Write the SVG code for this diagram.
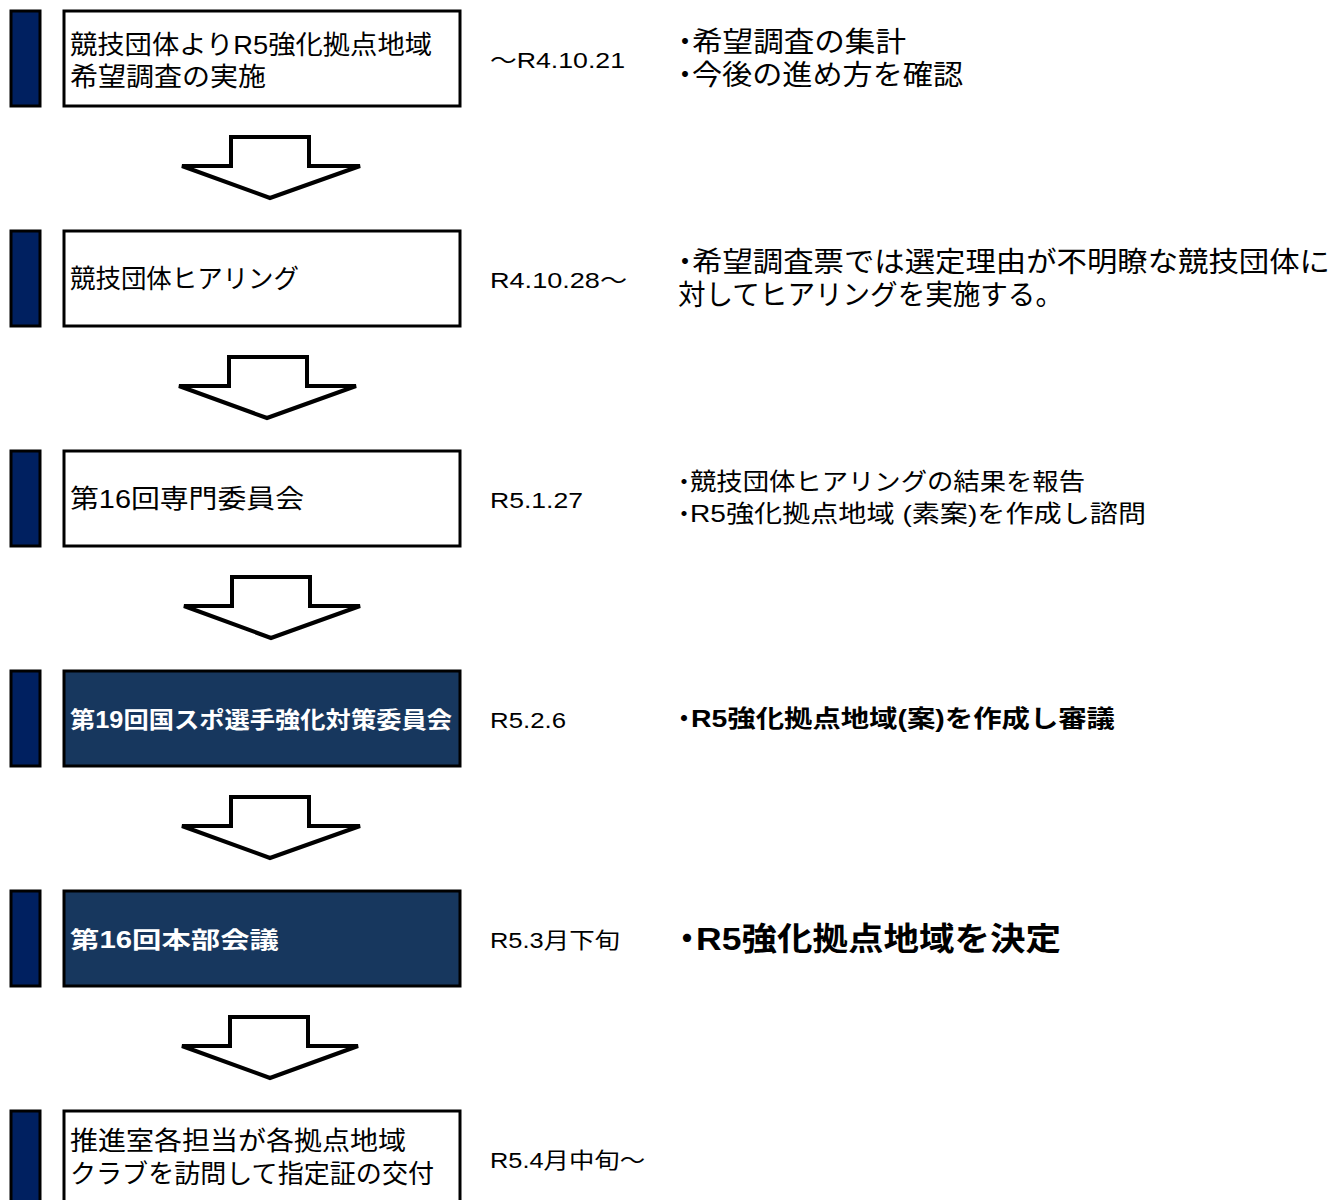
<svg xmlns="http://www.w3.org/2000/svg" width="1332" height="1200" viewBox="0 0 1332 1200">
<style>
text{font-family:"Liberation Sans","Noto Sans CJK JP",sans-serif;fill:#000}
.bar{fill:#002060;stroke:#000;stroke-width:3}
.box{fill:#fff;stroke:#000;stroke-width:3}
.dbox{fill:#17375E;stroke:#000;stroke-width:3}
.arr{fill:#fff;stroke:#000;stroke-width:4;stroke-linejoin:miter}
.bt{font-size:26px}
.wt{font-size:23px;font-weight:bold;fill:#fff}
.dt{font-size:22px}
.r1{font-size:28px}
.r3{font-size:24px}
.r4{font-size:24px;font-weight:bold}
.r5{font-size:32px;font-weight:bold}
</style>
<rect width="1332" height="1200" fill="#fff"/>
<g id="connectors">
<path class="arr" d="M231,137 H309 V166 H360 L270,198 L182,166 H231 Z"/>
<path class="arr" d="M229,357 H307 V386 H356 L267,418 L179,386 H229 Z"/>
<path class="arr" d="M232,577 H310 V606 H360 L271,638 L184,606 H232 Z"/>
<path class="arr" d="M231,797 H309 V826 H360 L270,858 L182,826 H231 Z"/>
<path class="arr" d="M230,1017 H308 V1046 H358 L270,1078 L182,1046 H230 Z"/>
</g>
<g id="step1">
<rect class="bar" x="11" y="11" width="29" height="95"/>
<rect class="box" x="64" y="11" width="396" height="95"/>
<text class="bt" x="70" y="54" textLength="362" lengthAdjust="spacingAndGlyphs">競技団体よりR5強化拠点地域</text>
<text class="bt" x="70" y="86" textLength="196" lengthAdjust="spacingAndGlyphs">希望調査の実施</text>
<text class="dt" x="490" y="68" textLength="135" lengthAdjust="spacingAndGlyphs">～R4.10.21</text>
<text class="r1" x="671" y="52">・<tspan x="692" textLength="214" lengthAdjust="spacingAndGlyphs">希望調査の集計</tspan></text>
<text class="r1" x="671" y="85">・<tspan x="692" textLength="271" lengthAdjust="spacingAndGlyphs">今後の進め方を確認</tspan></text>
</g>
<g id="step2">
<rect class="bar" x="11" y="231" width="29" height="95"/>
<rect class="box" x="64" y="231" width="396" height="95"/>
<text class="bt" x="70" y="288" textLength="229" lengthAdjust="spacingAndGlyphs">競技団体ヒアリング</text>
<text class="dt" x="490" y="288" textLength="137" lengthAdjust="spacingAndGlyphs">R4.10.28～</text>
<text class="r1" x="671" y="272">・<tspan x="692" textLength="638" lengthAdjust="spacingAndGlyphs">希望調査票では選定理由が不明瞭な競技団体に</tspan></text>
<text class="r1" x="678" y="305" textLength="385" lengthAdjust="spacingAndGlyphs">対してヒアリングを実施する。</text>
</g>
<g id="step3">
<rect class="bar" x="11" y="451" width="29" height="95"/>
<rect class="box" x="64" y="451" width="396" height="95"/>
<text class="bt" x="70" y="508" textLength="234" lengthAdjust="spacingAndGlyphs">第16回専門委員会</text>
<text class="dt" x="490" y="508" textLength="93" lengthAdjust="spacingAndGlyphs">R5.1.27</text>
<text class="r3" x="672" y="490">・<tspan x="690" textLength="395" lengthAdjust="spacingAndGlyphs">競技団体ヒアリングの結果を報告</tspan></text>
<text class="r3" x="672" y="522">・<tspan x="690" textLength="456" lengthAdjust="spacingAndGlyphs">R5強化拠点地域 (素案)を作成し諮問</tspan></text>
</g>
<g id="step4">
<rect class="bar" x="11" y="671" width="29" height="95"/>
<rect class="dbox" x="64" y="671" width="396" height="95"/>
<text class="wt" x="70" y="728" textLength="382" lengthAdjust="spacingAndGlyphs">第19回国スポ選手強化対策委員会</text>
<text class="dt" x="490" y="728" textLength="76" lengthAdjust="spacingAndGlyphs">R5.2.6</text>
<text class="r4" x="672" y="727">・<tspan x="691" textLength="424" lengthAdjust="spacingAndGlyphs">R5強化拠点地域(案)を作成し審議</tspan></text>
</g>
<g id="step5">
<rect class="bar" x="11" y="891" width="29" height="95"/>
<rect class="dbox" x="64" y="891" width="396" height="95"/>
<text class="wt" x="70" y="948" textLength="209" lengthAdjust="spacingAndGlyphs">第16回本部会議</text>
<text class="dt" x="490" y="948" textLength="130" lengthAdjust="spacingAndGlyphs">R5.3月下旬</text>
<text class="r5" x="671" y="950">・<tspan x="696" textLength="365" lengthAdjust="spacingAndGlyphs">R5強化拠点地域を決定</tspan></text>
</g>
<g id="step6">
<rect class="bar" x="11" y="1111" width="29" height="95"/>
<rect class="box" x="64" y="1111" width="396" height="95"/>
<text class="bt" x="70" y="1150" textLength="336" lengthAdjust="spacingAndGlyphs">推進室各担当が各拠点地域</text>
<text class="bt" x="70" y="1183" textLength="364" lengthAdjust="spacingAndGlyphs">クラブを訪問して指定証の交付</text>
<text class="dt" x="490" y="1168" textLength="155" lengthAdjust="spacingAndGlyphs">R5.4月中旬～</text>
</g>
</svg>
